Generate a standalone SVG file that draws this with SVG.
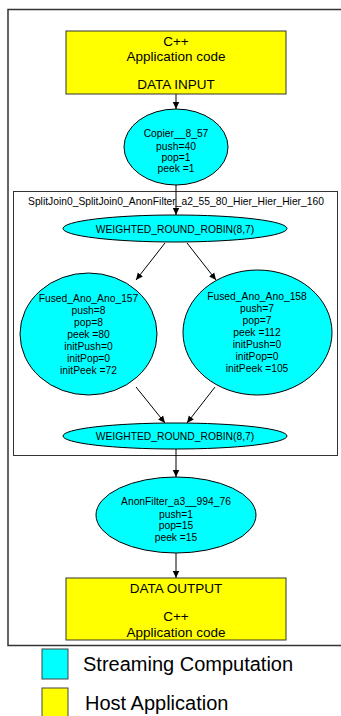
<svg xmlns="http://www.w3.org/2000/svg" width="341" height="716" viewBox="0 0 341 716">
<defs>
<marker id="arr" markerWidth="8" markerHeight="8" refX="7" refY="4" orient="auto" markerUnits="userSpaceOnUse">
<path d="M0,0.8 L7,4 L0,7.2 Z" fill="#000"/>
</marker>
<style>
text{font-family:"Liberation Sans",Arial,sans-serif;fill:#000;text-anchor:middle}
.s{font-size:10.3px}
.b{font-size:13.5px}
.l{font-size:20px;text-anchor:start}
.host{fill:#ffff00;stroke:#333;stroke-width:1}
.comp{fill:#00ffff;stroke:#000;stroke-width:1}
.edge{stroke:#000;stroke-width:1;fill:none;marker-end:url(#arr)}
</style>
</defs>
<rect x="8" y="9.5" width="340" height="636" fill="#fff" stroke="#333" stroke-width="1.5"/>
<g id="cluster">
<rect x="13.5" y="191.5" width="324" height="264" fill="none" stroke="#333" stroke-width="1"/>
<text class="s" x="176" y="205">SplitJoin0_SplitJoin0_AnonFilter_a2_55_80_Hier_Hier_Hier_160</text>
</g>
<g id="connectors">
<line class="edge" x1="176" y1="94" x2="176" y2="109"/>
<line class="edge" x1="176" y1="185" x2="176" y2="215"/>
<line class="edge" x1="165" y1="243" x2="136" y2="280"/>
<line class="edge" x1="187" y1="243" x2="216" y2="280"/>
<line class="edge" x1="136" y1="387" x2="165" y2="423"/>
<line class="edge" x1="215" y1="387" x2="187" y2="423"/>
<line class="edge" x1="176" y1="449" x2="176" y2="477"/>
<line class="edge" x1="176" y1="553" x2="176" y2="578"/>
</g>
<g id="input">
<rect class="host" x="66" y="31" width="220" height="63"/>
<text class="b" x="176" y="45.5">C++</text>
<text class="b" x="176" y="61">Application code</text>
<text class="b" x="176" y="89">DATA INPUT</text>
</g>
<g id="copier">
<ellipse class="comp" cx="176" cy="147" rx="52" ry="38"/>
<text class="s" x="176" y="137">Copier__8_57</text>
<text class="s" x="176" y="149.5">push=40</text>
<text class="s" x="176" y="161">pop=1</text>
<text class="s" x="176" y="172">peek =1</text>
</g>
<g id="wrr1">
<ellipse class="comp" cx="175" cy="228.5" rx="112" ry="13.5"/>
<text class="s" x="175" y="232.5">WEIGHTED_ROUND_ROBIN(8,7)</text>
</g>
<g id="fused157">
<ellipse class="comp" cx="88.5" cy="334" rx="68.5" ry="61"/>
<text class="s" x="88.5" y="302">Fused_Ano_Ano_157</text>
<text class="s" x="88.5" y="314">push=8</text>
<text class="s" x="88.5" y="326">pop=8</text>
<text class="s" x="88.5" y="338">peek =80</text>
<text class="s" x="88.5" y="350">initPush=0</text>
<text class="s" x="88.5" y="362">initPop=0</text>
<text class="s" x="88.5" y="374">initPeek =72</text>
</g>
<g id="fused158">
<ellipse class="comp" cx="257.5" cy="332.5" rx="74.5" ry="62.5"/>
<text class="s" x="257" y="300">Fused_Ano_Ano_158</text>
<text class="s" x="257" y="312">push=7</text>
<text class="s" x="257" y="324">pop=7</text>
<text class="s" x="257" y="336">peek =112</text>
<text class="s" x="257" y="348">initPush=0</text>
<text class="s" x="257" y="360">initPop=0</text>
<text class="s" x="257" y="372">initPeek =105</text>
</g>
<g id="wrr2">
<ellipse class="comp" cx="175" cy="436" rx="112" ry="13"/>
<text class="s" x="175" y="440">WEIGHTED_ROUND_ROBIN(8,7)</text>
</g>
<g id="anonfilter">
<ellipse class="comp" cx="176" cy="515" rx="80" ry="38"/>
<text class="s" x="176" y="505">AnonFilter_a3__994_76</text>
<text class="s" x="176" y="518">push=1</text>
<text class="s" x="176" y="529">pop=15</text>
<text class="s" x="176" y="541">peek =15</text>
</g>
<g id="output">
<rect class="host" x="66" y="578" width="220" height="62"/>
<text class="b" x="176" y="593">DATA OUTPUT</text>
<text class="b" x="176" y="621">C++</text>
<text class="b" x="176" y="636.5">Application code</text>
</g>
<g id="legend">
<rect x="42" y="649" width="26" height="30" fill="#00ffff" stroke="#444" stroke-width="1"/>
<text class="l" x="83" y="671">Streaming Computation</text>
<rect x="42" y="688" width="26" height="32" fill="#ffff00" stroke="#444" stroke-width="1"/>
<text class="l" x="85" y="710">Host Application</text>
</g>
</svg>
